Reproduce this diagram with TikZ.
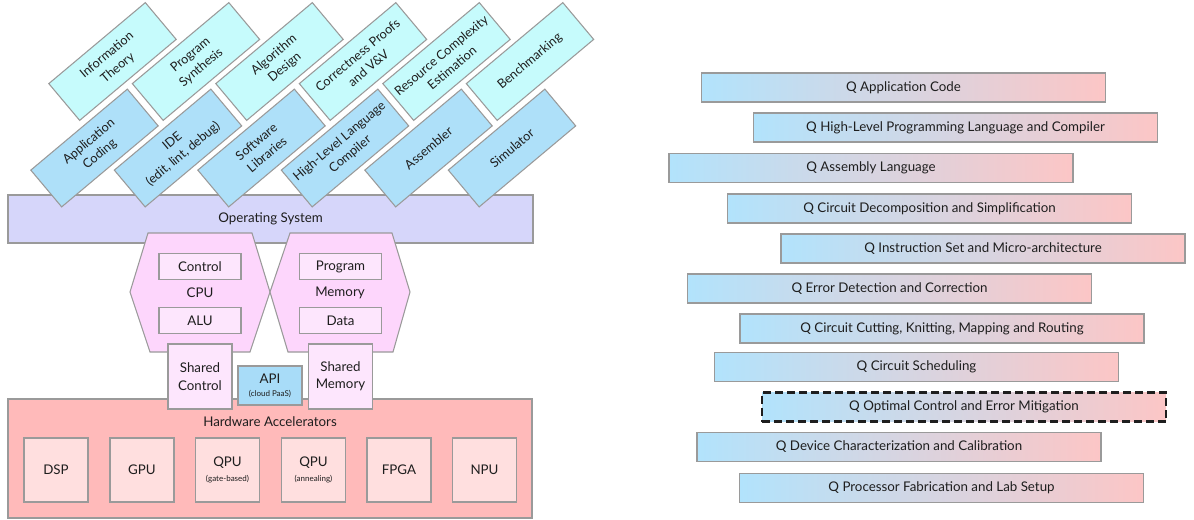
\documentclass[tikz,border=0pt]{standalone}
\usepackage{fontspec}
\setmainfont{Lato}
\usetikzlibrary{shapes.geometric}
\definecolor{edge}{HTML}{9A9A9A}
\definecolor{ink}{HTML}{1E1E1E}
\definecolor{cyanl}{HTML}{C6FBFC}
\definecolor{bluel}{HTML}{AEE0F9}
\definecolor{osc}{HTML}{D6D6FA}
\definecolor{hexc}{HTML}{FDD6FC}
\definecolor{innerc}{HTML}{FDE6FD}
\definecolor{apic}{HTML}{A8DCF8}
\definecolor{hwc}{HTML}{FFBABA}
\definecolor{accc}{HTML}{FFDFDF}
\definecolor{barl}{HTML}{B2E3FC}
\definecolor{barr}{HTML}{FCC6C6}
\begin{document}
\begin{tikzpicture}[x=0.75pt,y=-0.75pt,
  every node/.style={text=ink, font=\fontsize{10}{13}\selectfont},
  box/.style={draw=edge, line width=0.8pt, inner sep=1pt, align=center},
  rot/.style={box, rotate=40, minimum width=94.5pt, minimum height=36pt, font=\fontsize{9.5}{12.5}\selectfont},
  topbox/.style={rot, fill=cyanl},
  botbox/.style={rot, fill=bluel},
  inner/.style={box, fill=innerc, minimum width=61.5pt, minimum height=20pt},
  shared/.style={box, fill=innerc, minimum width=48pt, minimum height=48.75pt},
  acc/.style={box, fill=accc, minimum width=48pt, minimum height=48pt},
  hexa/.style={draw=edge, line width=0.8pt, fill=hexc},
  qbar/.style={box, left color=barl, right color=barr, minimum width=303pt, minimum height=21.75pt},
  small/.style={font=\fontsize{6}{7}\selectfont}
]
\useasboundingbox (0,0) rectangle (1194,519);

% Operating system bar
\node[box, fill=osc, minimum width=393.75pt, minimum height=36pt] (os) at (270.5,219) {};
\node (oslabel) at (270.5,219) {Operating System};

% top row
\node[topbox] (it) at (112.5,61.5) {Information\\Theory};
\node[topbox] (ps) at (196,61.5) {Program\\Synthesis};
\node[topbox] (ad) at (279.5,61.5) {Algorithm\\Design};
\node[topbox] (cp) at (363,61.5) {Correctness Proofs\\and V\&V};
\node[topbox] (rc) at (446.5,61.5) {Resource Complexity\\Estimation};
\node[topbox] (bm) at (530,61.5) {Benchmarking};

% bottom row
\node[botbox] (ac) at (94.5,148) {Application\\Coding};
\node[botbox] (ide) at (178,148) {IDE\\(edit, lint, debug)};
\node[botbox] (sl) at (261.5,148) {Software\\Libraries};
\node[botbox] (hl) at (345,148) {High-Level Language\\Compiler};
\node[botbox] (as) at (428.5,148) {Assembler};
\node[botbox] (sim) at (512,148) {Simulator};

% Hardware accelerators
\node[box, fill=hwc, minimum width=393pt, minimum height=89.25pt] (hw) at (270,458.5) {};
\node (hwlabel) at (270,422) {Hardware Accelerators};
\node[acc] (dsp) at (56,470) {DSP};
\node[acc] (gpu) at (142,470) {GPU};
\node[acc, align=center] (qpug) at (227.5,470) {QPU\\[-2pt]{\fontsize{6}{7}\selectfont (gate-based)}};
\node[acc, align=center] (qpua) at (313.5,470) {QPU\\[-2pt]{\fontsize{6}{7}\selectfont (annealing)}};
\node[acc] (fpga) at (399,470) {FPGA};
\node[acc] (npu) at (484.5,470) {NPU};

% CPU and Memory hexagons
\path[hexa] (148,233) -- (252,233) -- (270,292) -- (250,352) -- (150,352) -- (130,292) -- cycle;
\path[hexa] (290,233) -- (392,233) -- (410,292) -- (393,352) -- (288,352) -- (270,292) -- cycle;
\node (cpu) at (200,293) {CPU};
\node (mem) at (340,293) {Memory};
\node[inner] (ctrl) at (200,266.5) {Control};
\node[inner] (alu) at (200,320.5) {ALU};
\node[inner] (prog) at (340.5,266.5) {Program};
\node[inner] (data) at (340.5,320.5) {Data};

% shared and API
\node[shared] (sc) at (200,376.5) {Shared\\Control};
\node[shared] (sm) at (340.5,376.5) {Shared\\Memory};
\node[box, fill=apic, minimum width=48pt, minimum height=29.25pt] (api) at (270,385.5) {API\\[-3pt]{\fontsize{6}{7}\selectfont (cloud PaaS)}};

% right stack
\node[qbar] (q1) at (903.5,87.5) {Q Application Code};
\node[qbar] (q2) at (955.5,127.5) {Q High-Level Programming Language and Compiler};
\node[qbar] (q3) at (871,168) {Q Assembly Language};
\node[qbar] (q4) at (929.5,208.5) {Q Circuit Decomposition and Simplification};
\node[qbar] (q5) at (983,248.5) {Q Instruction Set and Micro-architecture};
\node[qbar] (q6) at (889.5,288.5) {Q Error Detection and Correction};
\node[qbar] (q7) at (942,328.5) {Q Circuit Cutting, Knitting, Mapping and Routing};
\node[qbar] (q8) at (916.5,367) {Q Circuit Scheduling};
\node[qbar, draw=ink, line width=1.6pt, dash pattern=on 6pt off 3pt] (q9) at (964,407) {Q Optimal Control and Error Mitigation};
\node[qbar] (q10) at (899,447) {Q Device Characterization and Calibration};
\node[qbar] (q11) at (941.5,488) {Q Processor Fabrication and Lab Setup};
\end{tikzpicture}
\end{document}
